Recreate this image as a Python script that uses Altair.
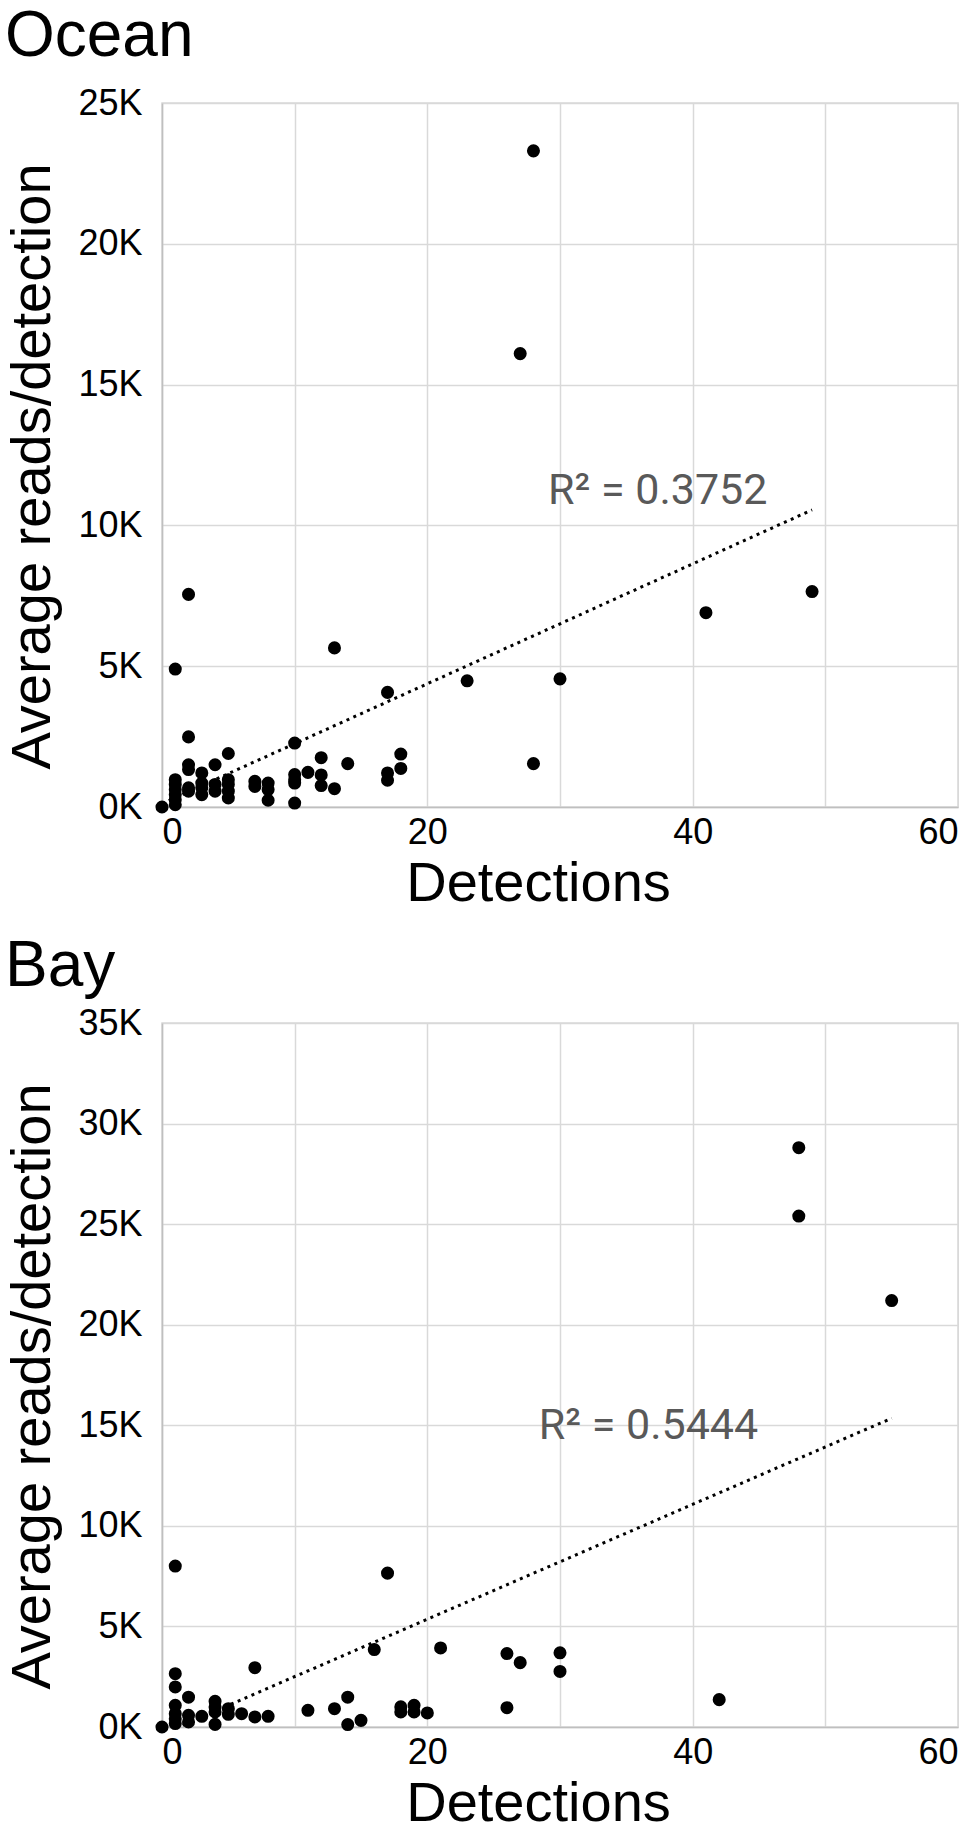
import altair as alt
import pandas as pd

# ---------------- data ----------------
ocean_detections = [0,
                    1, 1, 1, 1, 1, 1, 1,
                    2, 2, 2, 2, 2, 2,
                    3, 3, 3, 3,
                    4, 4, 4,
                    5, 5, 5, 5, 5,
                    7, 7,
                    8, 8, 8,
                    10, 10, 10, 10, 10,
                    11,
                    12, 12, 12,
                    13, 13,
                    14,
                    17, 17, 17,
                    18, 18,
                    23, 27, 28, 28, 30, 41, 49]
ocean_reads = [0,
               4900, 970, 800, 620, 440, 260, 80,
               7550, 2490, 1500, 1330, 680, 560,
               1210, 850, 680, 440,
               1500, 800, 560,
               1900, 970, 800, 560, 320,
               910, 730,
               850, 620, 240,
               2270, 1150, 970, 850, 140,
               1230,
               1750, 1140, 760,
               5650, 650,
               1540,
               4070, 1210, 950,
               1880, 1370,
               4480, 16100, 23300, 1540, 4550, 6900, 7650]

bay_detections = [0,
                  1, 1, 1, 1, 1, 1, 1,
                  2, 2, 2,
                  3,
                  4, 4, 4, 4,
                  5, 5,
                  6,
                  7, 7,
                  8, 11, 13,
                  14, 14,
                  15, 16, 17,
                  18, 18,
                  19, 19,
                  20, 21,
                  26, 26,
                  27,
                  30, 30,
                  42, 48, 48, 55]
bay_reads = [0,
             8000, 2650, 1990, 1080, 660, 410, 170,
             1480, 580, 250,
             530,
             1280, 1000, 750, 130,
             910, 630,
             660,
             2950, 500,
             530, 830, 910,
             1480, 120,
             330, 3850, 7650,
             1000, 750,
             1080, 750,
             700, 3930,
             3650, 960,
             3200,
             3690, 2760,
             1360, 28800, 25400, 21200]

# linear trendlines (Excel), end points
ocean_trend_detections = [0, 49]
ocean_trend_reads = [120, 10550]
bay_trend_detections = [0, 55]
bay_trend_reads = [-350, 15350]

panel_titles = ["Ocean", "Bay"]
x_title = "Detections"
y_title = "Average reads/detection"
x_grid = [0, 10, 20, 30, 40, 50, 60]
ocean_y_ticks = [0, 5000, 10000, 15000, 20000, 25000]
bay_y_ticks = [0, 5000, 10000, 15000, 20000, 25000, 30000, 35000]
r2_labels = ["R\u00b2 = 0.3752", "R\u00b2 = 0.5444"]
r2_at_detections = [29.1, 28.4]
r2_at_reads = [10750, 14300]

FONT = "Liberation Sans"


def panel(xs, ys, tx, ty, title, yticks, label, lx, ly, title_offset):
    df = pd.DataFrame({"Detections": xs, "Reads": ys})
    ymax = yticks[-1]
    xenc = alt.X(
        "Detections:Q",
        scale=alt.Scale(domain=[0, 60], nice=False, zero=True),
        axis=alt.Axis(
            values=x_grid,
            labelExpr="datum.value % 20 == 0 ? datum.label : ''",
            title=x_title,
        ),
    )
    yenc = alt.Y(
        "Reads:Q",
        scale=alt.Scale(domain=[0, ymax], nice=False),
        axis=alt.Axis(values=yticks, labelExpr="(datum.value / 1000) + 'K'",
                      title=y_title),
    )
    pts = alt.Chart(df).mark_circle(size=170, color="black", opacity=1).encode(
        x=xenc, y=yenc)
    trend = (
        alt.Chart(pd.DataFrame({"Detections": tx, "Reads": ty}))
        .mark_line(color="black", strokeDash=[3, 4.5], strokeWidth=3, clip=True)
        .encode(x=xenc, y=yenc)
    )
    lab = alt.Chart(
        pd.DataFrame({"Detections": [lx], "Reads": [ly], "label": [label]})
    ).mark_text(
        align="left", baseline="alphabetic", font="Roboto", fontSize=43,
        color="#595959",
    ).encode(x=xenc, y=yenc, text="label:N")
    return alt.layer(pts, trend, lab).properties(
        width=796,
        height=704,
        title=alt.TitleParams(
            title, anchor="start", frame="bounds", fontSize=64, font=FONT,
            fontWeight="normal", color="black", offset=title_offset,
        ),
    )


ocean = panel(ocean_detections, ocean_reads, ocean_trend_detections,
              ocean_trend_reads, panel_titles[0], ocean_y_ticks,
              r2_labels[0], r2_at_detections[0], r2_at_reads[0], 16)
bay = panel(bay_detections, bay_reads, bay_trend_detections, bay_trend_reads,
            panel_titles[1], bay_y_ticks,
            r2_labels[1], r2_at_detections[1], r2_at_reads[1], 6)

chart = (
    alt.vconcat(ocean, bay, spacing=22)
    .properties(padding={"top": -4, "left": -4, "right": 0, "bottom": 0})
    .configure_axis(
        labelFont=FONT, titleFont=FONT, labelFontSize=36, titleFontSize=56,
        titleFontWeight="normal", labelColor="black", titleColor="black",
        gridColor="#d9d9d9", gridWidth=1.5, domainColor="#bfbfbf",
        domainWidth=1.5, ticks=False,
    )
    .configure_axisY(labelPadding=20, titlePadding=16, titleY=363)
    .configure_axisX(labelPadding=8, titlePadding=6, titleX=376)
    .configure_view(stroke="#d9d9d9", strokeWidth=1.5)
)

chart.save("out.html", embed_options={"renderer": "svg", "actions": False})
